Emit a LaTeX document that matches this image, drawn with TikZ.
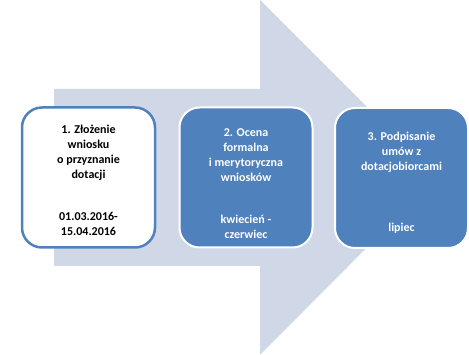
\documentclass[tikz,border=0pt]{standalone}
\usepackage{fontspec}
\setmainfont{Carlito}
\usetikzlibrary{positioning}
\definecolor{arrowfill}{RGB}{208,216,232}
\definecolor{stageblue}{RGB}{79,129,189}

\begin{document}
\begin{tikzpicture}[x=1pt,y=-1pt,
    stage/.style={rounded corners=20pt, minimum width=133pt, minimum height=140pt, line width=2.5pt},
    steptext/.style={font=\bfseries\fontsize{12}{15}\selectfont, align=center}]
    \useasboundingbox (0,0) rectangle (469,355);
    % big arrow behind the stages
    \fill[arrowfill] (54,89) -- (260,89) -- (260,0) -- (437,177) -- (260,355) -- (260,266) -- (54,266) -- cycle;
    % stages
    \node[stage, draw=stageblue, fill=white] (s1) at (88.5,177.5) {};
    \node[stage, draw=white, fill=stageblue, line width=2pt] (s2) at (246,177.5) {};
    \node[stage, draw=white, fill=stageblue, line width=2pt] (s3) at (401.5,178) {};
    % texts
    \node[steptext] (t1) at ([yshift=25pt]s1.center) {1. Złożenie\\wniosku\\o przyznanie\\dotacji};
    \node[steptext] (d1) at ([yshift=-46pt]s1.center) {01.03.2016-\\15.04.2016};
    \node[steptext, text=white] (t2) at ([yshift=22pt]s2.center) {2. Ocena\\formalna\\i merytoryczna\\wniosków};
    \node[steptext, text=white] (d2) at ([yshift=-49pt]s2.center) {kwiecień -\\czerwiec};
    \node[steptext, text=white] (t3) at ([yshift=26pt]s3.center) {3. Podpisanie\\umów z\\dotacjobiorcami};
    \node[steptext, text=white] (d3) at ([yshift=-50pt]s3.center) {lipiec};
\end{tikzpicture}
\end{document}
